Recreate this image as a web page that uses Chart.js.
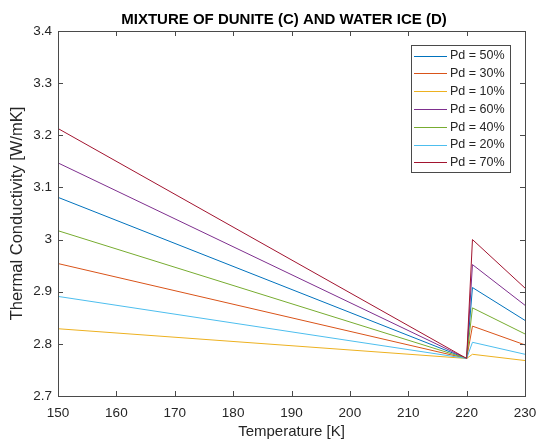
<!DOCTYPE html>
<html>
<head>
<meta charset="utf-8">
<script src="https://cdn.jsdelivr.net/npm/chart.js@4.4.1/dist/chart.umd.min.js"></script>
<style>
  html, body { margin: 0; padding: 0; background: #ffffff; }
  #wrap { width: 538px; height: 442px; }
</style>
</head>
<body>
<div id="wrap"><canvas id="c" width="538" height="442"></canvas></div>
<script>
// ---- data ----
const chartTitle = 'MIXTURE OF DUNITE (C) AND WATER ICE (D)';
const xTitle = 'Temperature [K]';
const yTitle = 'Thermal Conductivity [W/mK]';
const temperatures = [150, 150, 220, 221, 230];
const pdLabels = ['Pd = 50%', 'Pd = 30%', 'Pd = 10%', 'Pd = 60%', 'Pd = 40%', 'Pd = 20%', 'Pd = 70%'];
const pd50 = [3.056, 3.081, 2.772, 2.908, 2.845];
const pd30 = [2.922, 2.954, 2.772, 2.834, 2.798];
const pd10 = [2.797, 2.829, 2.772, 2.780, 2.768];
const pd60 = [3.113, 3.147, 2.772, 2.952, 2.874];
const pd40 = [2.992, 3.017, 2.772, 2.869, 2.819];
const pd20 = [2.853, 2.891, 2.772, 2.803, 2.780];
const pd70 = [3.183, 3.213, 2.772, 3.000, 2.907];
const xTickValues = [150, 160, 170, 180, 190, 200, 210, 220, 230];
const xTickLabels = ['150', '160', '170', '180', '190', '200', '210', '220', '230'];
const yTickValues = [2.7, 2.8, 2.9, 3.0, 3.1, 3.2, 3.3, 3.4];
const yTickLabels = ['2.7', '2.8', '2.9', '3', '3.1', '3.2', '3.3', '3.4'];

const seriesValues = [pd50, pd30, pd10, pd60, pd40, pd20, pd70];
const seriesColors = ['#0072BD', '#D95319', '#EDB120', '#7E2F8E', '#77AC30', '#4DBEEE', '#A2142F'];

const FONT = '"Liberation Sans", Arial, Helvetica, sans-serif';
const AXIS_COLOR = '#4a4a4a';
const TEXT_COLOR = '#262626';

const datasets = seriesValues.map((vals, i) => ({
  label: pdLabels[i],
  data: vals.map((v, j) => ({ x: temperatures[j], y: v })),
  borderColor: seriesColors[i],
  backgroundColor: seriesColors[i],
  borderWidth: 1,
  pointRadius: 0,
  showLine: true,
  tension: 0,
  order: seriesValues.length - i
}));

// center the title horizontally like the reference
const titlePlace = {
  id: 'titlePlace',
  afterLayout(chart) {
    const t = chart.titleBlock;
    if (t) { t.left = 43; t.right = 525; }
  }
};

// inward ticks on all four sides + box
const boxTicks = {
  id: 'boxTicks',
  afterDraw(chart) {
    const { ctx, chartArea: a, scales: { x, y } } = chart;
    const len = 5;
    ctx.save();
    ctx.strokeStyle = AXIS_COLOR;
    ctx.lineWidth = 1;
    ctx.beginPath();
    xTickValues.forEach(v => {
      const px = Math.round(x.getPixelForValue(v)) + 0.5;
      ctx.moveTo(px, a.bottom); ctx.lineTo(px, a.bottom - len);
      ctx.moveTo(px, a.top); ctx.lineTo(px, a.top + len);
    });
    yTickValues.forEach(v => {
      const py = Math.round(y.getPixelForValue(v)) + 0.5;
      ctx.moveTo(a.left, py); ctx.lineTo(a.left + len, py);
      ctx.moveTo(a.right, py); ctx.lineTo(a.right - len, py);
    });
    ctx.stroke();
    ctx.strokeRect(Math.round(a.left) + 0.5, Math.round(a.top) + 0.5,
                   Math.round(a.right - a.left), Math.round(a.bottom - a.top));
    ctx.restore();
  }
};

// MATLAB-like legend inside the plot, north-east
const insideLegend = {
  id: 'insideLegend',
  afterDraw(chart) {
    const { ctx, chartArea: a } = chart;
    const ds = chart.data.datasets;
    const boxW = 99, rowH = 17.8, boxH = 127;
    const bx = a.right - 15 - boxW, by = a.top + 13.5;
    ctx.save();
    ctx.fillStyle = '#ffffff';
    ctx.fillRect(bx, by, boxW, boxH);
    ctx.strokeStyle = AXIS_COLOR;
    ctx.lineWidth = 1;
    ctx.strokeRect(Math.round(bx) + 0.5, Math.round(by) + 0.5, boxW, boxH);
    ctx.font = '12.5px ' + FONT;
    ctx.textBaseline = 'middle';
    ctx.textAlign = 'left';
    ds.forEach((d, i) => {
      const cy = by + 11 + i * rowH;
      ctx.strokeStyle = d.borderColor;
      ctx.lineWidth = 1;
      ctx.beginPath();
      ctx.moveTo(bx + 3, Math.round(cy) + 0.5);
      ctx.lineTo(bx + 36, Math.round(cy) + 0.5);
      ctx.stroke();
      ctx.fillStyle = TEXT_COLOR;
      ctx.fillText(d.label, bx + 39, cy + 0.5);
    });
    ctx.restore();
  }
};

new Chart(document.getElementById('c'), {
  type: 'scatter',
  data: { datasets },
  plugins: [titlePlace, boxTicks, insideLegend],
  options: {
    responsive: false,
    animation: false,
    devicePixelRatio: 1,
    layout: { padding: { top: 0, right: 13, bottom: 0, left: 0 } },
    plugins: {
      legend: { display: false },
      tooltip: { enabled: false },
      title: {
        display: true,
        text: chartTitle,
        color: '#000000',
        font: { family: FONT, size: 15, weight: 'bold' },
        padding: { top: 11, bottom: 2 }
      }
    },
    scales: {
      x: {
        type: 'linear',
        min: 150, max: 230,
        afterBuildTicks: s => { s.ticks = xTickValues.map(v => ({ value: v })); },
        afterFit: s => { s.height = 46; s.paddingLeft = 0; s.paddingRight = 0; },
        grid: { display: false, drawTicks: false },
        border: { display: false },
        ticks: {
          padding: 9,
          color: TEXT_COLOR,
          font: { family: FONT, size: 13.5 },
          maxRotation: 0,
          callback: (v, i) => xTickLabels[i]
        },
        title: {
          display: true,
          text: xTitle,
          color: TEXT_COLOR,
          font: { family: FONT, size: 15 },
          padding: { top: 0, bottom: 1 }
        }
      },
      y: {
        type: 'linear',
        min: 2.7, max: 3.4,
        afterBuildTicks: s => { s.ticks = yTickValues.map(v => ({ value: v })); },
        afterFit: s => { s.width = 58; s.paddingTop = 0; s.paddingBottom = 0; },
        grid: { display: false, drawTicks: false },
        border: { display: false },
        ticks: {
          padding: 6,
          color: TEXT_COLOR,
          font: { family: FONT, size: 13.5 },
          callback: (v, i) => yTickLabels[i]
        },
        title: {
          display: true,
          text: yTitle,
          color: TEXT_COLOR,
          font: { family: FONT, size: 16.5 },
          padding: { top: 8, bottom: 0 }
        }
      }
    }
  }
});
</script>
</body>
</html>
